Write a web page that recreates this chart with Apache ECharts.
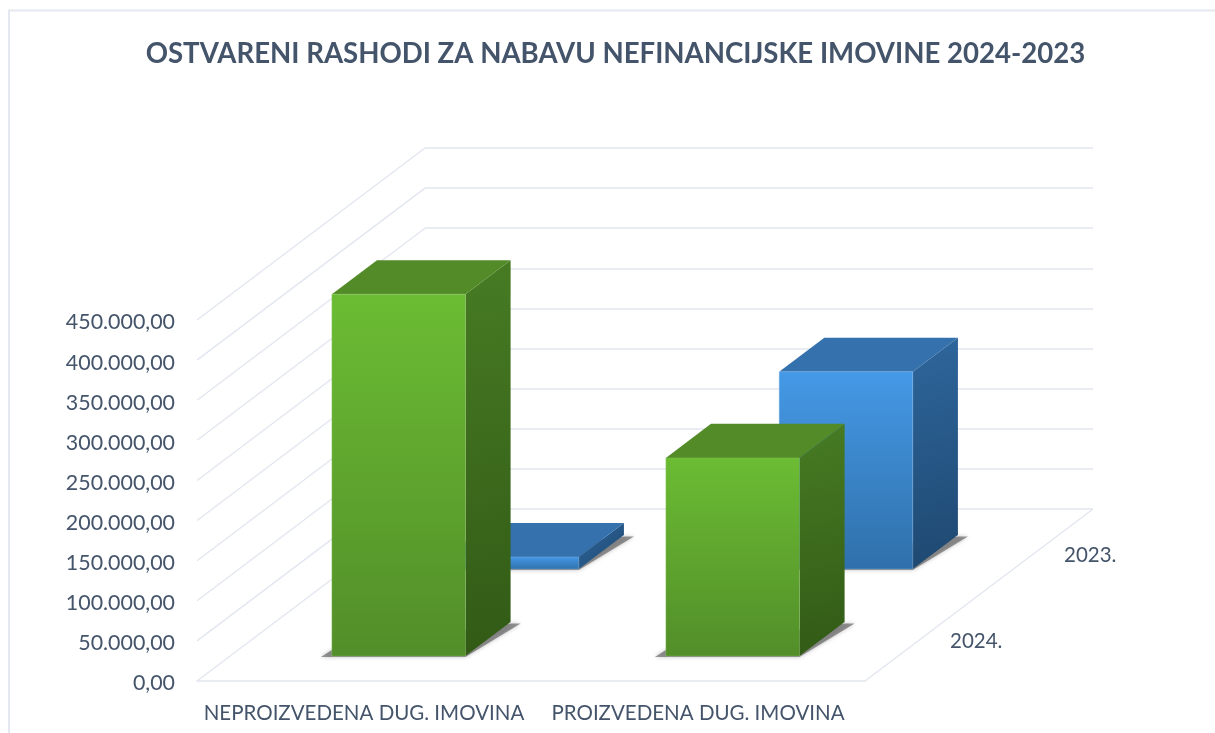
<!DOCTYPE html>
<html><head><meta charset="utf-8">
<style>html,body{margin:0;padding:0;background:#fff}#c{width:1215px;height:733px}</style>
<script src="https://cdn.jsdelivr.net/npm/echarts@6/dist/echarts.min.js"></script>
</head><body><div id="c"></div>
<script>
const categories = ['NEPROIZVEDENA DUG. IMOVINA', 'PROIZVEDENA DUG. IMOVINA'];
const depthLabels = ['2024.', '2023.'];
const values2024 = [451000, 247000];
const values2023 = [15000, 246000];
const yTicks = [0, 50000, 100000, 150000, 200000, 250000, 300000, 350000, 400000, 450000];
const titleText = 'OSTVARENI RASHODI ZA NABAVU NEFINANCIJSKE IMOVINE 2024-2023';

const DX = 228, DY = 172;           // oblique projection of the full floor depth
const BAR_W = 0.4, BAR_D = 0.198;   // of a category band / of the floor depth
const ROW_X = [0.152, 0.649], ROW_Y = [0.145, 0.651];   // front of each row, as depth fraction
const TEXT = '#44546A', LINE = '#E2E6EF';
const FONT = 'Lato, "Open Sans", sans-serif';

const grad = (x, y, x2, y2, a, b) => new echarts.graphic.LinearGradient(x, y, x2, y2, [{offset:0,color:a},{offset:1,color:b}]);
const palettes = {
  green: {front:['#6BBC33','#528E29'], side:['#477B23','#325A16'], top:'#538B28', edge:'rgba(150,205,110,.35)'},
  blue:  {front:['#4599E6','#2F70AA'], side:['#2E669C','#1E4870'], top:'#3471AD', edge:'rgba(140,190,235,.35)'}
};

function cuboid(row, pal) {
  return function (params, api) {
    const cat = api.value(0), val = api.value(1);
    const band = api.size([1, 0])[0];
    const c0 = api.coord([cat, 0]), c1 = api.coord([cat, val]);
    const w = band * BAR_W;
    const ox = ROW_X[row] * DX, oy = ROW_Y[row] * DY;
    const dx = BAR_D * DX, dy = BAR_D * DY;
    const x0 = c0[0] - w / 2 + ox, x1 = x0 + w;
    const yb = c0[1] - oy, yt = c1[1] - oy;
    const p = palettes[pal];
    const poly = (pts, fill, extra) => ({type:'polygon', shape:{points:pts}, style:Object.assign({fill:fill}, extra||{})});
    return {type:'group', children:[
      poly([[x0-11,yb+1],[x1,yb+1],[x1+dx+10,yb-dy+1.5],[x1+dx,yb-dy+1.5],[x0,yb-6]], 'rgba(85,85,85,.6)',
        {shadowBlur:4, shadowColor:'rgba(85,85,85,.6)'}),
      poly([[x1,yb],[x1+dx,yb-dy],[x1+dx,yt-dy],[x1,yt]], grad(0,0,1,1,p.side[0],p.side[1])),
      poly([[x0,yt],[x1,yt],[x1+dx,yt-dy],[x0+dx,yt-dy]], p.top),
      poly([[x0,yb],[x1,yb],[x1,yt],[x0,yt]], grad(0,0,0,1,p.front[0],p.front[1]), {stroke:p.edge, lineWidth:1})
    ]};
  };
}

const wallLines = {
  type:'custom', xAxisIndex:0, yAxisIndex:0, z:1, silent:true,
  data: yTicks.map(v => [0, v]),
  renderItem(params, api) {
    const c = api.coord([0, api.value(1)]);
    const band = api.size([1, 0])[0];
    const x = c[0] - band / 2, y = c[1];
    return {type:'line', shape:{x1:x, y1:y, x2:x+DX, y2:y-DY}, style:{stroke:LINE, lineWidth:1.3}};
  }
};
const floorEdge = {
  type:'custom', xAxisIndex:0, yAxisIndex:0, z:1, silent:true,
  data: [[1, 0]],
  renderItem(params, api) {
    const c = api.coord([1, 0]);
    const x = c[0] + api.size([1, 0])[0] / 2, y = c[1];
    return {type:'line', shape:{x1:x, y1:y, x2:x+DX, y2:y-DY}, style:{stroke:LINE, lineWidth:1.3}};
  }
};
const depthText = {
  type:'custom', xAxisIndex:0, yAxisIndex:0, z:1, silent:true,
  data: depthLabels.map((t, i) => [1, 0, i]),
  renderItem(params, api) {
    const c = api.coord([1, 0]);
    const i = api.value(2), f = 0.25 + 0.5 * i;
    const x = c[0] + api.size([1, 0])[0] / 2 + f * DX + 28, y = c[1] - f * DY + 3;
    return {type:'text', style:{x:x, y:y, text:depthLabels[i], fill:TEXT, font:'20.5px ' + FONT, verticalAlign:'middle', align:'left'}};
  }
};
const bar = (values, row, pal, z) => ({
  type:'custom', xAxisIndex:0, yAxisIndex:0, z:z, silent:true,
  data: values.map((v, i) => [i, v]),
  encode:{x:0, y:1}, renderItem:cuboid(row, pal)
});
const fmt = v => v.toLocaleString('de-DE', {minimumFractionDigits:2, maximumFractionDigits:2});

const chart = echarts.init(document.getElementById('c'), null, {renderer:'canvas'});
chart.setOption({
  animation:false,
  backgroundColor:'#fff',
  title:{text:titleText, left:610.5, top:35, textAlign:'center',
    textStyle:{color:TEXT, fontFamily:FONT, fontWeight:'bold', fontSize:27.6}},
  graphic:[{type:'polyline', silent:true, z:-1, shape:{points:[[9,800],[9,10.5],[1216,10.5]]}, style:{fill:'none', stroke:'#E4E8F0', lineWidth:2}}],
  grid:[
    {left:197, width:668, top:320, height:361},
    {left:425, width:668, top:148, height:361}
  ],
  xAxis:[
    {type:'category', gridIndex:0, data:categories, boundaryGap:true,
     axisTick:{show:false}, axisLine:{show:true, lineStyle:{color:LINE, width:1.5}},
     axisLabel:{color:TEXT, fontFamily:FONT, fontSize:20.5, margin:22, interval:0}},
    {type:'value', gridIndex:1, min:0, max:1, axisLine:{show:false}, axisTick:{show:false}, axisLabel:{show:false}, splitLine:{show:false}}
  ],
  yAxis:[
    {type:'value', gridIndex:0, min:0, max:450000, interval:50000,
     axisLine:{show:false}, axisTick:{show:false}, splitLine:{show:false},
     axisLabel:{color:TEXT, fontFamily:FONT, fontSize:21.4, margin:22, verticalAlign:'top', lineHeight:5, formatter:fmt}},
    {type:'value', gridIndex:1, min:0, max:450000, interval:50000,
     axisLine:{show:false}, axisTick:{show:false}, axisLabel:{show:false},
     splitLine:{show:true, lineStyle:{color:LINE, width:1.5}}}
  ],
  series:[wallLines, floorEdge, depthText, bar(values2023, 1, 'blue', 3), bar(values2024, 0, 'green', 4)]
});
</script></body></html>
